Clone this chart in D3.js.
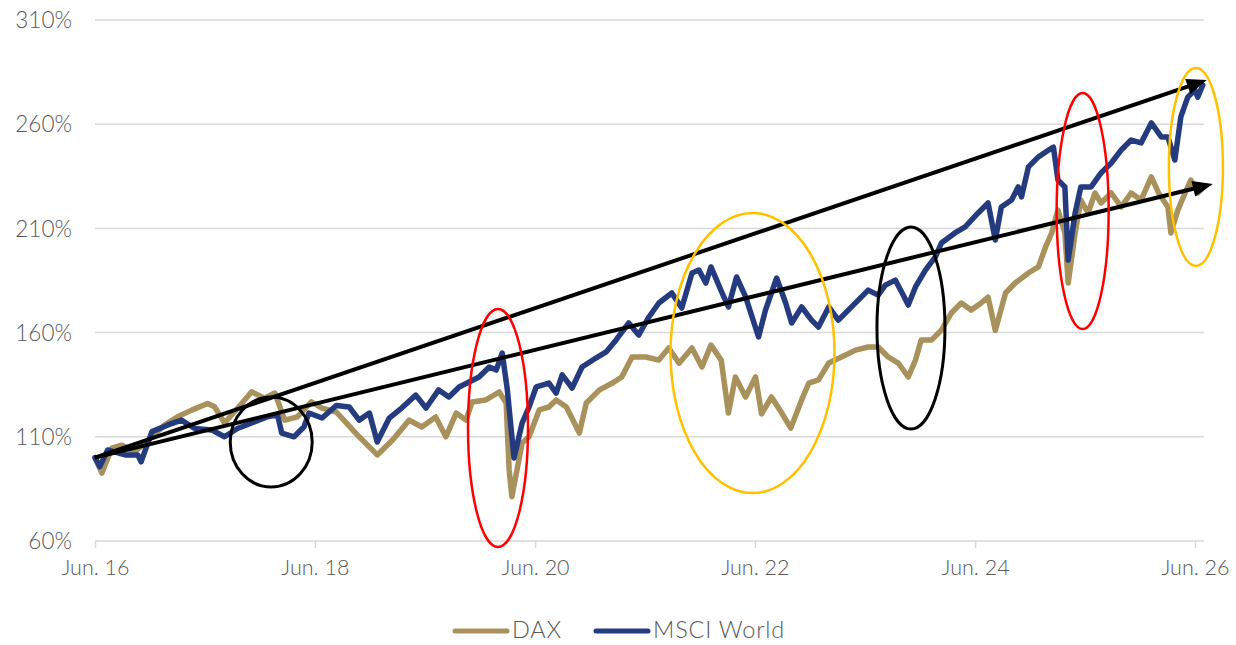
<!DOCTYPE html>
<html>
<head>
<meta charset="utf-8">
<script src="https://cdn.jsdelivr.net/npm/d3@7"></script>
<style>
  html, body { margin: 0; padding: 0; background: #ffffff; }
  svg { display: block; }
  text { font-family: "Lato", "Open Sans", sans-serif; font-weight: 300; fill: #595959; }
</style>
</head>
<body>
<svg id="chart" width="1236" height="645"></svg>
<script>
// ---------------- DATA ----------------
const seriesNames = ["DAX", "MSCI World"];

const daxDates = ["2016-06-01","2016-06-24","2016-07-27","2016-08-29","2016-10-11","2016-11-24","2017-01-19","2017-03-02","2017-04-18","2017-06-10","2017-07-03","2017-08-05","2017-10-01","2017-11-03","2017-12-16","2018-01-19","2018-02-21","2018-04-04","2018-05-20","2018-06-25","2018-08-11","2018-09-14","2018-10-26","2018-12-25","2019-02-14","2019-04-10","2019-05-22","2019-07-07","2019-08-10","2019-09-13","2019-10-16","2019-11-05","2019-12-21","2020-02-03","2020-02-26","2020-03-07","2020-03-16","2020-04-19","2020-05-12","2020-06-15","2020-07-17","2020-08-10","2020-09-13","2020-10-26","2020-11-18","2021-01-01","2021-02-13","2021-03-16","2021-04-19","2021-06-04","2021-07-17","2021-08-19","2021-09-22","2021-11-04","2021-12-07","2022-01-06","2022-02-09","2022-03-05","2022-03-28","2022-05-01","2022-06-03","2022-06-23","2022-07-26","2022-08-29","2022-09-28","2022-11-03","2022-11-27","2022-12-29","2023-02-01","2023-03-15","2023-05-01","2023-06-12","2023-07-15","2023-08-17","2023-09-20","2023-10-23","2023-11-16","2023-12-05","2024-01-08","2024-02-10","2024-03-14","2024-04-16","2024-05-19","2024-06-21","2024-07-14","2024-08-07","2024-09-10","2024-10-12","2024-11-25","2024-12-28","2025-01-21","2025-02-10","2025-03-03","2025-03-26","2025-04-06","2025-04-29","2025-05-18","2025-06-11","2025-07-04","2025-07-24","2025-08-27","2025-09-29","2025-11-01","2025-12-04","2026-01-07","2026-01-31","2026-03-03","2026-03-13","2026-04-05","2026-04-29","2026-05-18","2026-06-10","2026-06-27"];
const daxValues = [100,92.6,104.6,106,102.7,108.5,115.7,119.6,122.8,126,124.4,116.6,126,131.6,128.5,131,118,119.6,126.8,123.8,121.9,116.6,110,101.3,108.5,118,114.7,119.5,110,121.4,118,126.7,127.7,131.5,126.2,94.1,81.2,107,110,122.9,124.3,127.7,124.3,111.8,126.2,132.5,135.8,138.7,148.3,148.3,146.8,152.6,145.3,152.6,143.5,154,146.8,121.4,138.7,129.1,138.7,121,129.1,121.4,114.2,127.7,135.8,137.3,145.4,148.3,151.6,153.1,153.1,148.3,145.4,138.7,146.8,156.4,156.4,161.2,169.4,174.2,170.8,174.2,177,161,179,183.8,188.6,191.5,201.1,207.8,218.8,207.8,183.8,207.8,223.6,217.4,227,222.2,227,220.3,227,223.6,234.7,227,220.3,207.8,218.8,227,233.2,227,229.4];

const msciDates = ["2016-06-01","2016-06-17","2016-07-13","2016-08-10","2016-09-09","2016-10-21","2016-11-01","2016-12-07","2017-01-29","2017-03-15","2017-04-28","2017-06-23","2017-08-05","2017-09-17","2017-11-03","2017-12-26","2018-01-28","2018-02-11","2018-03-24","2018-04-26","2018-05-12","2018-06-25","2018-08-11","2018-09-23","2018-10-26","2018-11-29","2018-12-25","2019-02-03","2019-03-16","2019-05-02","2019-06-05","2019-07-17","2019-08-20","2019-09-23","2019-10-26","2019-11-28","2020-01-01","2020-01-24","2020-02-13","2020-03-01","2020-03-23","2020-04-19","2020-05-12","2020-06-05","2020-07-17","2020-08-10","2020-08-30","2020-10-02","2020-11-04","2020-12-20","2021-01-23","2021-02-25","2021-04-08","2021-05-11","2021-06-14","2021-07-17","2021-08-29","2021-10-01","2021-11-04","2021-11-27","2021-12-20","2022-01-06","2022-02-12","2022-03-05","2022-04-01","2022-05-01","2022-06-13","2022-07-06","2022-08-12","2022-09-11","2022-10-01","2022-11-03","2022-12-06","2022-12-29","2023-02-01","2023-03-05","2023-04-07","2023-05-10","2023-06-12","2023-07-15","2023-08-08","2023-09-10","2023-10-01","2023-10-23","2023-11-16","2023-12-19","2024-01-21","2024-02-10","2024-03-26","2024-04-29","2024-06-11","2024-07-14","2024-08-07","2024-08-27","2024-09-30","2024-10-22","2024-11-02","2024-11-25","2024-12-28","2025-01-31","2025-02-16","2025-03-03","2025-03-26","2025-04-06","2025-04-29","2025-05-18","2025-06-21","2025-07-24","2025-08-27","2025-09-29","2025-11-01","2025-12-04","2026-01-07","2026-02-09","2026-03-03","2026-03-26","2026-04-15","2026-05-08","2026-06-01","2026-06-10","2026-06-27"];
const msciValues = [100,95.7,103.7,102.5,101.3,101.3,98,112.5,115.7,118,114,113.3,110,114,116.6,119.6,120.5,111.8,110,114.8,121.4,119,125,124.3,118,121.4,107.5,119,123.8,130,123.8,132.5,129.1,133.9,136.3,138.7,143.5,142,150.2,132.5,99.8,116.6,124.3,134,135.8,131,139.7,133.4,143.5,147.8,150.7,156.5,164.6,158.8,167.5,174.2,179,171.8,188.6,190,183.8,191.5,179,172.3,186.7,177.1,157.9,170.8,186.2,174.2,164.6,172.3,166,162.7,172.3,166,170.8,175.6,180.4,178,182.8,185.2,179.5,173.2,181.9,190,196.3,203,207.8,210.7,217.4,222.2,204.4,220.3,223.6,229.9,225.1,239.5,244.3,247.6,249,233.2,229.9,194.8,217.4,229.9,229.9,236.6,241.4,247.6,252.4,251,260.6,253.9,253.9,242.8,263.5,273,276.4,273,278.8];

const yTicks = [60, 110, 160, 210, 260, 310];
const xTickDates = ["2016-06-01","2018-06-01","2020-06-01","2022-06-01","2024-06-01","2026-06-01"];
const xTickLabels = ["Jun. 16","Jun. 18","Jun. 20","Jun. 22","Jun. 24","Jun. 26"];

// annotations (centre in data space)
const ellipseDates  = ["2018-01-07","2020-01-30","2022-05-24","2023-11-01","2025-05-24","2026-06-04"];
const ellipseValues = [107.5, 114.2, 150.2, 162.2, 218.3, 239.5];
const ellipseColors = ["#000000","#FF0000","#FFC000","#000000","#FF0000","#FFC000"];
const ellipseRx = [41, 30, 82, 34, 26, 27];
const ellipseRy = [45, 119, 140, 101, 118, 99];

const arrowStartDates = ["2016-06-01","2016-06-01"];
const arrowStartValues = [100, 100];
const arrowEndDates = ["2026-07-10","2026-07-30"];
const arrowEndValues = [281.2, 231.3];

// ---------------- CHART ----------------
const parse = d3.timeParse("%Y-%m-%d");
const colors = { "DAX": "#A8915B", "MSCI World": "#243B7F" };

const svg = d3.select("#chart");
const x = d3.scaleTime()
  .domain([parse("2016-06-01"), parse("2026-06-01")])
  .range([95, 1195]);
const xEnd = x(parse("2026-07-01"));
const y = d3.scaleLinear().domain([60, 310]).range([541, 20]);

// gridlines
svg.append("g").selectAll("line").data(yTicks).join("line")
  .attr("x1", 95).attr("x2", xEnd)
  .attr("y1", d => y(d)).attr("y2", d => y(d))
  .attr("stroke", "#D9D9D9").attr("stroke-width", 1.5);

// y labels
svg.append("g").selectAll("text").data(yTicks).join("text")
  .attr("x", 72).attr("y", d => y(d))
  .attr("dy", "0.36em").attr("text-anchor", "end")
  .attr("font-size", 22.5)
  .text(d => d + "%");

// x axis ticks
const xAxis = d3.axisBottom(x)
  .tickValues(xTickDates.map(parse))
  .tickFormat((d, i) => xTickLabels[i])
  .tickSize(7).tickSizeOuter(0);
const gx = svg.append("g").attr("transform", `translate(0,${y(60)})`).call(xAxis);
gx.select(".domain").remove();
gx.selectAll(".tick line").attr("stroke", "#D9D9D9").attr("stroke-width", 1.5);
gx.selectAll(".tick text").attr("font-size", 21.5).attr("dy", "1.1em")
  .style("font-family", "Lato, 'Open Sans', sans-serif").style("font-weight", 300).attr("fill", "#595959");

// series
const line = d3.line().x(d => x(d[0])).y(d => y(d[1]));
const dax = daxDates.map((d, i) => [parse(d), daxValues[i]]);
const msci = msciDates.map((d, i) => [parse(d), msciValues[i]]);
[[dax, "DAX"], [msci, "MSCI World"]].forEach(([data, name]) => {
  svg.append("path").datum(data)
    .attr("d", line)
    .attr("fill", "none")
    .attr("stroke", colors[name])
    .attr("stroke-width", 5.5)
    .attr("stroke-linejoin", "round")
    .attr("stroke-linecap", "round");
});

// arrows
arrowStartDates.forEach((sd, i) => {
  const x1 = x(parse(sd)), y1 = y(arrowStartValues[i]);
  const x2 = x(parse(arrowEndDates[i])), y2 = y(arrowEndValues[i]);
  const ang = Math.atan2(y2 - y1, x2 - x1);
  const headLen = 20, headHalf = 8;
  const bx = x2 - headLen * Math.cos(ang), by = y2 - headLen * Math.sin(ang);
  svg.append("line")
    .attr("x1", x1).attr("y1", y1).attr("x2", bx + 2 * Math.cos(ang)).attr("y2", by + 2 * Math.sin(ang))
    .attr("stroke", "#000").attr("stroke-width", 4);
  const px = -Math.sin(ang), py = Math.cos(ang);
  svg.append("polygon")
    .attr("points", [[x2, y2], [bx + px * headHalf, by + py * headHalf], [bx - px * headHalf, by - py * headHalf]].map(p => p.join(",")).join(" "))
    .attr("fill", "#000");
});

// ellipses
svg.append("g").selectAll("ellipse").data(ellipseDates).join("ellipse")
  .attr("cx", d => x(parse(d)))
  .attr("cy", (d, i) => y(ellipseValues[i]))
  .attr("rx", (d, i) => ellipseRx[i])
  .attr("ry", (d, i) => ellipseRy[i])
  .attr("fill", "none")
  .attr("stroke", (d, i) => ellipseColors[i])
  .attr("stroke-width", (d, i) => ellipseColors[i] === "#000000" ? 3 : 2.5);

// legend
const legend = svg.append("g");
const legendItems = [
  { name: "DAX", x0: 455 },
  { name: "MSCI World", x0: 596 }
];
legendItems.forEach(it => {
  legend.append("line")
    .attr("x1", it.x0).attr("x2", it.x0 + 52)
    .attr("y1", 631).attr("y2", 631)
    .attr("stroke", colors[it.name]).attr("stroke-width", 5)
    .attr("stroke-linecap", "round");
  legend.append("text")
    .attr("x", it.x0 + 57).attr("y", 630).attr("dy", "0.36em")
    .attr("font-size", 23.5)
    .attr("letter-spacing", 0.8)
    .text(it.name);
});
</script>
</body>
</html>
